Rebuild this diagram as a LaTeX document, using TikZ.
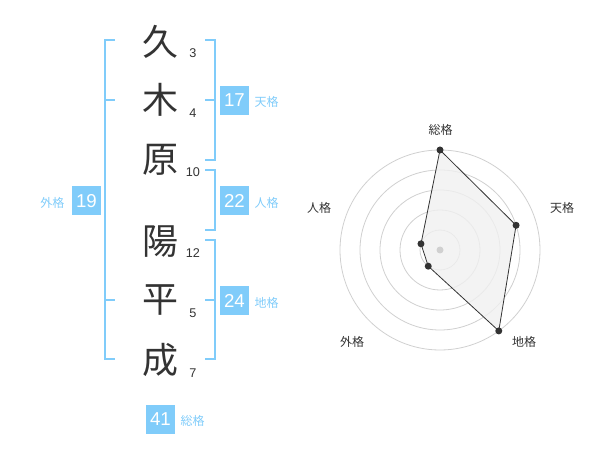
\documentclass[tikz,border=0pt]{standalone}
\usepackage{fontspec}
\setmainfont{Liberation Sans}
\newfontfamily\jpfont{Noto Sans CJK JP}
\usetikzlibrary{positioning}

\definecolor{kakublue}{RGB}{128,204,250}
\definecolor{inkgray}{RGB}{51,51,51}
\definecolor{webgray}{RGB}{208,208,208}
\definecolor{areagray}{RGB}{240,240,240}

\tikzset{
  kanji/.style={font=\jpfont\fontsize{27}{27}\selectfont, text=inkgray, inner sep=0pt},
  strokes/.style={font=\fontsize{9.5}{9.5}\selectfont, text=inkgray, inner sep=0pt},
  kakubox/.style={fill=kakublue, text=white, minimum size=21.75pt, inner sep=0pt, font=\fontsize{14}{14}\selectfont},
  kakuname/.style={font=\jpfont\fontsize{9}{9}\selectfont, text=kakublue, inner sep=0pt},
  bracket/.style={draw=kakublue, line width=1.5pt},
  axisname/.style={font=\jpfont\fontsize{9}{9}\selectfont, text=inkgray, inner sep=0pt},
  dot/.style={circle, fill=inkgray, inner sep=0pt, minimum size=5.25pt},
}

\begin{document}
\begin{tikzpicture}[x=0.75pt, y=-0.75pt]
    \useasboundingbox (0,0) rectangle (600,470);

    % name, one character per row
    \draw (160,42)  node[kanji] (k1) {久};
    \draw (160,100) node[kanji] (k2) {木};
    \draw (160,160) node[kanji] (k3) {原};
    \draw (160,242) node[kanji] (k4) {陽};
    \draw (160,300) node[kanji] (k5) {平};
    \draw (160,360) node[kanji] (k6) {成};
    \node[strokes] (n1) at (193,53)  {3};
    \node[strokes] (n2) at (193,113) {4};
    \node[strokes] (n3) at (193,172) {10};
    \node[strokes] (n4) at (193,253) {12};
    \node[strokes] (n5) at (193,313) {5};
    \node[strokes] (n6) at (193,373) {7};

    % brackets
    \draw[bracket] (115,40) -- (105,40) -- (105,359) -- (115,359)
                   (105,100) -- (115,100)
                   (105,300) -- (115,300);
    \draw[bracket] (205,40) -- (215,40) -- (215,160) -- (205,160)
                   (215,100) -- (205,100);
    \draw[bracket] (205,170) -- (215,170) -- (215,230) -- (205,230);
    \draw[bracket] (205,240) -- (215,240) -- (215,359) -- (205,359)
                   (215,300) -- (205,300);

    % totals
    \node[kakubox] (tenbox) at (234.5,100.5) {17};
    \node[kakubox] (jinbox) at (234.5,200.5) {22};
    \node[kakubox] (chibox) at (234.5,300.5) {24};
    \node[kakubox] (gaibox) at (86.5,201)    {19};
    \node[kakubox] (soubox) at (160.5,419.5) {41};
    \node[kakuname, anchor=base west] (tenname) at ([xshift=3.75pt]tenbox.base east) {天格};
    \node[kakuname, anchor=base west] (jinname) at ([xshift=3.75pt]jinbox.base east) {人格};
    \node[kakuname, anchor=base west] (chiname) at ([xshift=3.75pt]chibox.base east) {地格};
    \node[kakuname, anchor=base west] (souname) at ([xshift=3.75pt]soubox.base east) {総格};
    \node[kakuname, anchor=base east] (gainame) at ([xshift=-5.25pt]gaibox.base west) {外格};

    % radar chart
    \coordinate (c) at (440,250);
    \foreach \r in {20,40,60,80,100}
        \draw[webgray, line width=0.6pt] (c) circle[radius=\r];
    \coordinate (ps) at ([shift={(c)}] -90:100);
    \coordinate (pt) at ([shift={(c)}] -18:80);
    \coordinate (pc) at ([shift={(c)}] 54:100);
    \coordinate (pg) at ([shift={(c)}] 126:20);
    \coordinate (pj) at ([shift={(c)}] 198:20);
    \draw[inkgray, fill=areagray, fill opacity=0.8, line width=0.6pt]
        (ps) -- (pt) -- (pc) -- (pg) -- (pj) -- cycle;
    \fill[webgray] (c) circle[radius=3.5];
    \foreach \p in {ps,pt,pc,pg,pj}
        \node[dot] at (\p) {};
    \node[axisname] (as) at (440.5,130) {総格};
    \node[axisname] (at) at (562,208)   {天格};
    \node[axisname] (ac) at (524,342)   {地格};
    \node[axisname] (ag) at (352,342)   {外格};
    \node[axisname] (aj) at (319,208)   {人格};
\end{tikzpicture}
\end{document}
